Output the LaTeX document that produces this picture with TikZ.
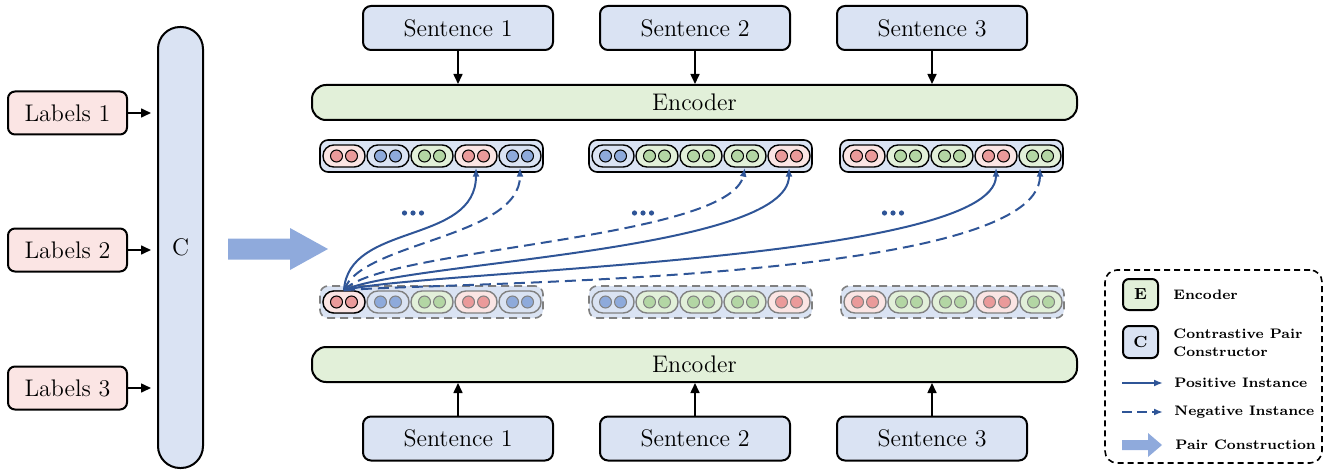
\documentclass[tikz,border=0pt]{standalone}
\usepackage{fontspec}
\usetikzlibrary{arrows.meta}
\definecolor{sentblue}{HTML}{DAE3F3}
\definecolor{encgreen}{HTML}{E2F0D9}
\definecolor{labpink}{HTML}{FBE5E4}
\definecolor{pillred}{HTML}{FBE5E4}
\definecolor{pillblue}{HTML}{DAE3F3}
\definecolor{pillgreen}{HTML}{E2F0D9}
\definecolor{circred}{HTML}{EA9A9A}
\definecolor{circblue}{HTML}{8EAADB}
\definecolor{circgreen}{HTML}{B3D6A4}
\definecolor{arrblue}{HTML}{2F5597}
\definecolor{bigblue}{HTML}{8FAADC}
\definecolor{fadegray}{HTML}{808080}
\tikzset{
 box/.style={draw=black, line width=1pt, rounded corners=4pt, inner sep=0pt, font=\fontsize{12}{14}\selectfont},
 sentbox/.style={box, fill=sentblue, minimum width=95pt, minimum height=22pt},
 encbox/.style={box, fill=encgreen, minimum width=382.5pt, minimum height=17.5pt, rounded corners=7pt},
 labbox/.style={box, fill=labpink, minimum width=59.5pt, minimum height=21.5pt, rounded corners=3.5pt},
 cbar/.style={box, fill=sentblue, minimum width=22.5pt, minimum height=220.5pt, rounded corners=11pt},
 blackarr/.style={line width=0.8pt, -{Triangle[length=5pt,width=4.5pt]}},
 topgroup/.style={draw=black, line width=0.8pt, fill=sentblue, rounded corners=4pt, minimum width=111.5pt, minimum height=16pt, inner sep=0pt},
 toppill/.style={draw=black, line width=0.7pt, rounded corners=5.4pt, minimum width=21pt, minimum height=11pt, inner sep=0pt},
 topcirc/.style={draw=black, line width=0.5pt, circle, minimum size=6pt, inner sep=0pt},
 botgroup/.style={topgroup, draw=fadegray, dash pattern=on 4pt off 2.5pt},
 botpill/.style={toppill, draw=fadegray},
 botcirc/.style={topcirc, draw=fadegray},
 posarr/.style={draw=arrblue, line width=1pt, -{Latex[length=4.5pt,width=3.5pt]}},
 negarr/.style={posarr, dash pattern=on 5.5pt off 3pt},
 legtext/.style={anchor=west, inner sep=0pt, font=\fontsize{6.9}{8.8}\selectfont\bfseries, align=left},
 legbox/.style={draw=black, line width=1pt, rounded corners=3pt, minimum width=17.5pt, minimum height=15.5pt, inner sep=0pt, font=\fontsize{8}{10}\selectfont\bfseries},
 dotstyle/.style={fill=arrblue}
}
\newcommand{\vecgroup}[5]{%
  \node[#2group] (#1) at (#3,#4) {};
  \foreach \col [count=\i] in {#5} {
    \node[#2pill, fill=pill\col] (#1-\i) at ({#3-87.5+(\i-1)*44},#4) {};
    \node[#2circ, fill=circ\col] (#1-\i-a) at ({#3-95+(\i-1)*44},#4) {};
    \node[#2circ, fill=circ\col] (#1-\i-b) at ({#3-80+(\i-1)*44},#4) {};
  }
}
\begin{document}
\begin{tikzpicture}[x=0.5pt,y=-0.5pt]
\useasboundingbox (0,0) rectangle (1325,470);
% labels and C bar
\node[cbar] (C) at (180.5,247.5) {C};
\node[labbox] (lab1) at (67.5,113) {Labels 1};
\node[labbox] (lab2) at (67.5,250) {Labels 2};
\node[labbox] (lab3) at (67.5,388) {Labels 3};
\foreach \n in {lab1,lab2,lab3}
  \draw[blackarr, shorten >=3pt] (\n.east) -- (\n.east -| C.west);
% big arrow
\fill[bigblue] (228,238.5) -- (290,238.5) -- (290,228) -- (328,249) -- (290,270) -- (290,259.5) -- (228,259.5) -- cycle;
% top part
\node[sentbox] (ts1) at (458,28) {Sentence 1};
\node[sentbox] (ts2) at (695,28) {Sentence 2};
\node[sentbox] (ts3) at (932,28) {Sentence 3};
\node[encbox] (tenc) at (694.5,102.5) {Encoder};
\foreach \n in {ts1,ts2,ts3}
  \draw[blackarr] (\n.south) -- (\n.south |- tenc.north);
% bottom part
\node[encbox] (benc) at (694.5,364.5) {Encoder};
\node[sentbox] (bs1) at (458,438.5) {Sentence 1};
\node[sentbox] (bs2) at (695,438.5) {Sentence 2};
\node[sentbox] (bs3) at (932,438.5) {Sentence 3};
\foreach \n in {bs1,bs2,bs3}
  \draw[blackarr] (\n.north) -- (\n.north |- benc.south);
% vector groups
\vecgroup{t1}{top}{431.5}{156}{red,blue,green,red,blue}
\vecgroup{t2}{top}{700.5}{156}{blue,green,green,green,red}
\vecgroup{t3}{top}{951.5}{156}{red,green,green,red,green}
\vecgroup{b1}{bot}{431.5}{302}{red,blue,green,red,blue}
\vecgroup{b2}{bot}{700.5}{302}{blue,green,green,green,red}
\vecgroup{b3}{bot}{952.5}{302}{red,green,green,red,green}
\node[toppill, fill=pillred] (b1-1k) at (b1-1.center) {};
\node[topcirc, fill=circred] (b1-1k-a) at (b1-1-a.center) {};
\node[topcirc, fill=circred] (b1-1k-b) at (b1-1-b.center) {};
% dots
\foreach \x in {413,643,893}
  \foreach \d in {-8.5,0,8.5}
    \fill[dotstyle] ({\x+\d},213) circle[radius=1.3pt];
% contrastive curves
\draw[posarr] (b1-1.north) .. controls (348,222) and (476,245) .. (t1-4.south);
\draw[negarr] (b1-1.north) .. controls (360,242) and (520,238) .. (t1-5.south);
\draw[negarr] (b1-1.north) .. controls (380,248) and (730,240) .. (t2-4.south);
\draw[posarr] (b1-1.north) .. controls (400,262) and (789,252) .. (t2-5.south);
\draw[posarr] (b1-1.north) .. controls (420,270) and (996,262) .. (t3-4.south);
\draw[negarr] (b1-1.north) .. controls (430,282) and (1040,285) .. (t3-5.south);
% legend
\node[draw=black, line width=0.8pt, dash pattern=on 3pt off 2pt, rounded corners=6pt, minimum width=108.5pt, minimum height=96.5pt, inner sep=0pt] (leg) at (1213.5,366.5) {};
\node[legbox, fill=encgreen] (legE) at (1140.5,294.5) {E};
\node[legtext] (legEt) at (1173,295) {Encoder};
\node[legbox, fill=sentblue, minimum height=16pt] (legC) at (1140.5,342) {C};
\node[legtext] (legCt) at (1173,343) {Contrastive Pair\\Constructor};
\coordinate (lp1) at (1122,383);
\coordinate (lp2) at (1163,383);
\draw[posarr] (lp1) -- (lp2);
\node[legtext] (legPt) at (1174,383) {Positive Instance};
\coordinate (ln1) at (1122,412);
\coordinate (ln2) at (1163,412);
\draw[posarr, dash pattern=on 5pt off 2.5pt] (ln1) -- (ln2);
\node[legtext] (legNt) at (1174,412) {Negative Instance};
\fill[bigblue] (1122,440) -- (1148,440) -- (1148,433) -- (1162,445) -- (1148,457) -- (1148,450) -- (1122,450) -- cycle;
\node[legtext] (legPCt) at (1175,445) {Pair Construction};
\end{tikzpicture}
\end{document}
